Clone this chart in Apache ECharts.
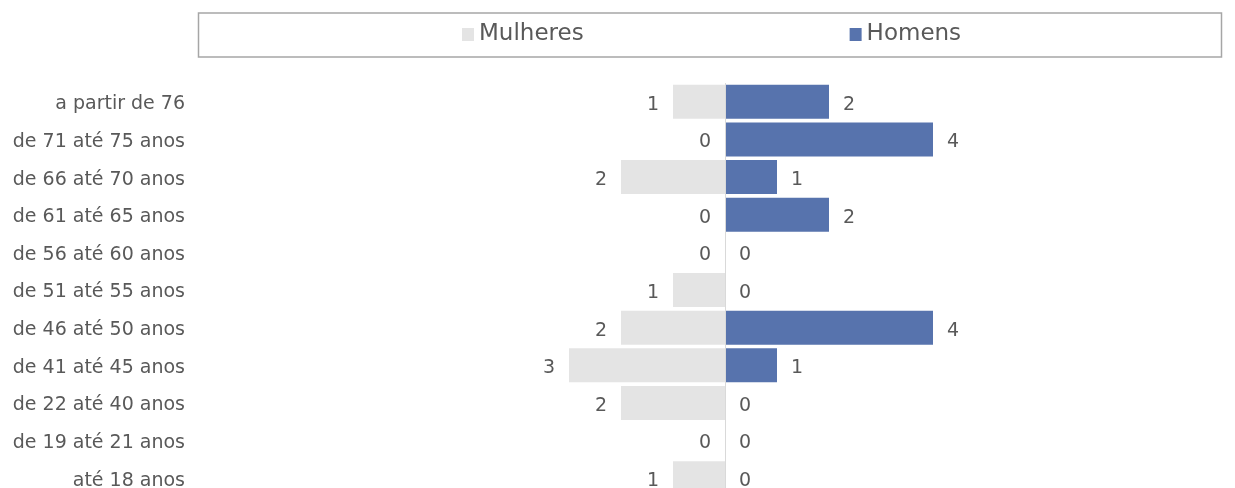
<!DOCTYPE html>
<html>
<head>
<meta charset="utf-8">
<script src="https://cdn.jsdelivr.net/npm/echarts@6/dist/echarts.min.js"></script>
<style>
  html, body { margin: 0; padding: 0; background: #fff; overflow: hidden; }
  #chart { width: 1235px; height: 510px; }
</style>
</head>
<body>
<div id="chart"></div>
<script>
// faixas etárias (de cima para baixo)
const categories = [
  'a partir de 76',
  'de 71 até 75 anos',
  'de 66 até 70 anos',
  'de 61 até 65 anos',
  'de 56 até 60 anos',
  'de 51 até 55 anos',
  'de 46 até 50 anos',
  'de 41 até 45 anos',
  'de 22 até 40 anos',
  'de 19 até 21 anos',
  'até 18 anos'
];
const mulheres = [1, 0, 2, 0, 0, 1, 2, 3, 2, 0, 1];
const homens = [2, 4, 1, 2, 0, 0, 4, 1, 0, 0, 0];

const FONT = 'DejaVu Sans';
const TEXT = '#595959';

const chart = echarts.init(document.getElementById('chart'));

chart.setOption({
  animation: false,
  textStyle: { fontFamily: FONT },
  graphic: [
    {
      type: 'rect',
      shape: { x: 198.5, y: 13, width: 1023, height: 44 },
      style: { fill: 'none', stroke: '#a6a6a6', lineWidth: 1.5 }
    }
  ],
  legend: {
    data: ['Mulheres', 'Homens'],
    left: 462,
    top: 23,
    padding: 0,
    itemWidth: 12,
    itemHeight: 13,
    itemGap: 266,
    icon: 'rect',
    textStyle: { fontFamily: FONT, fontSize: 23, color: TEXT, padding: [4, 0, 0, 0] }
  },
  grid: {
    left: 205,
    right: 42,
    top: 83,
    height: 414
  },
  xAxis: {
    type: 'value',
    min: -10,
    max: 9,
    show: false
  },
  yAxis: {
    type: 'category',
    data: categories,
    inverse: true,
    axisLine: { show: false },
    axisTick: { show: false },
    axisLabel: {
      interval: 0,
      fontFamily: FONT,
      fontSize: 19,
      color: TEXT,
      margin: 20,
      verticalAlign: 'top',
      lineHeight: 5
    }
  },
  series: [
    {
      name: 'Mulheres',
      type: 'bar',
      data: mulheres.map(v => -v),
      barWidth: 34,
      barGap: '-100%',
      itemStyle: { color: '#e4e4e4' },
      label: {
        show: true,
        position: 'left',
        distance: 14,
        offset: [0, 3],
        fontFamily: FONT,
        fontSize: 19,
        color: TEXT,
        formatter: p => Math.abs(p.value)
      },
      markLine: {
        silent: true,
        symbol: 'none',
        label: { show: false },
        lineStyle: { color: '#d9d9d9', width: 1, type: 'solid' },
        data: [{ xAxis: 0 }]
      }
    },
    {
      name: 'Homens',
      type: 'bar',
      data: homens,
      barWidth: 34,
      itemStyle: { color: '#5773ad' },
      label: {
        show: true,
        position: 'right',
        distance: 14,
        offset: [0, 3],
        fontFamily: FONT,
        fontSize: 19,
        color: TEXT
      }
    }
  ]
});
</script>
</body>
</html>
